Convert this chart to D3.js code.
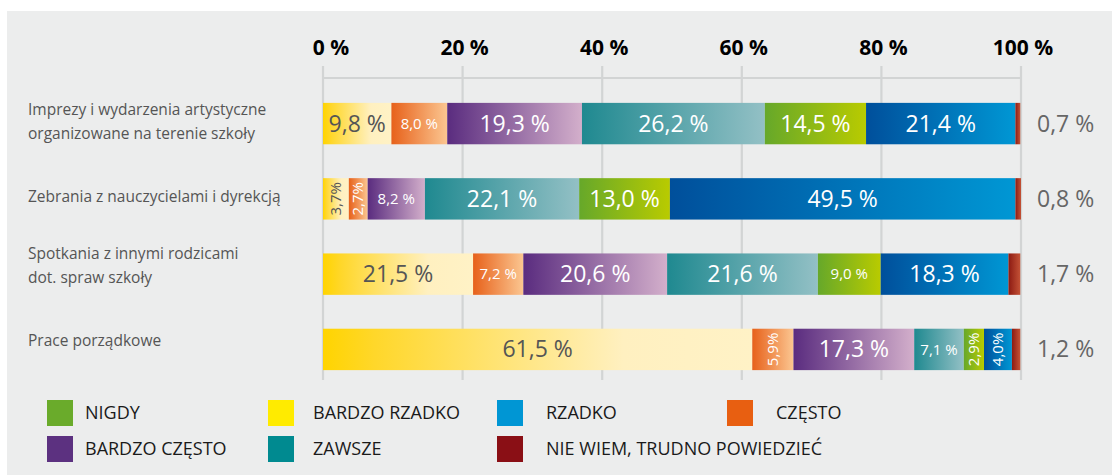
<!DOCTYPE html>
<html>
<head>
<meta charset="utf-8">
<script src="https://cdn.jsdelivr.net/npm/d3@7"></script>
<style>
  html, body { margin: 0; padding: 0; background: #fff; }
  svg { display: block; }
</style>
</head>
<body>
<svg width="1112" height="475"></svg>
<script>
// categories (rows) and the series, in the order they are stacked
const categories = [
  'Imprezy i wydarzenia artystyczne organizowane na terenie szkoły',
  'Zebrania z nauczycielami i dyrekcją',
  'Spotkania z innymi rodzicami dot. spraw szkoły',
  'Prace porządkowe'
]
const categoryLines = [
  ['Imprezy i wydarzenia artystyczne', 'organizowane na terenie szkoły'],
  ['Zebrania z nauczycielami i dyrekcją'],
  ['Spotkania z innymi rodzicami', 'dot. spraw szkoły'],
  ['Prace porządkowe']
]
const seriesNames = ['BARDZO RZADKO', 'CZĘSTO', 'BARDZO CZĘSTO', 'ZAWSZE', 'NIGDY', 'RZADKO', 'NIE WIEM, TRUDNO POWIEDZIEĆ']

const bardzoRzadko = [9.8, 3.7, 21.5, 61.5]
const czesto = [8.0, 2.7, 7.2, 5.9]
const bardzoCzesto = [19.3, 8.2, 20.6, 17.3]
const zawsze = [26.2, 22.1, 21.6, 7.1]
const nigdy = [14.5, 13.0, 9.0, 2.9]
const rzadko = [21.4, 49.5, 18.3, 4.0]
const nieWiem = [0.7, 0.8, 1.7, 1.2]

const xTicks = [0, 20, 40, 60, 80, 100]
const legendOrder = ['NIGDY', 'BARDZO RZADKO', 'RZADKO', 'CZĘSTO', 'BARDZO CZĘSTO', 'ZAWSZE', 'NIE WIEM, TRUDNO POWIEDZIEĆ']

const seriesValues = [bardzoRzadko, czesto, bardzoCzesto, zawsze, nigdy, rzadko, nieWiem]

// colours: solid (legend) and gradient start / end (bars)
const solid = {
  'BARDZO RZADKO': '#ffeb00', 'CZĘSTO': '#e85f11', 'BARDZO CZĘSTO': '#5c3180',
  'ZAWSZE': '#008a90', 'NIGDY': '#6aab2b', 'RZADKO': '#0096d4',
  'NIE WIEM, TRUDNO POWIEDZIEĆ': '#8a0f15'
}
const grad = {
  'BARDZO RZADKO': [['0', '#ffd400'], ['0.12', '#ffd72a'], ['0.7', '#fff0c0'], ['1', '#fff2c6']],
  'CZĘSTO': [['0', '#e7611a'], ['1', '#fbc691']],
  'BARDZO CZĘSTO': [['0', '#5a2c7f'], ['1', '#d3afcb']],
  'ZAWSZE': [['0', '#1f8990'], ['1', '#93c0c5']],
  'NIGDY': [['0', '#66a82a'], ['1', '#b9cb00']],
  'RZADKO': [['0', '#004f9b'], ['1', '#0097d4']],
  'NIE WIEM, TRUDNO POWIEDZIEĆ': [['0', '#8c1a12'], ['1', '#c45236']]
}

const table = categories.map((c, i) => {
  const row = { category: c }
  seriesNames.forEach((s, j) => { row[s] = seriesValues[j][i] })
  return row
})

const svg = d3.select('svg')
const width = +svg.attr('width')
const height = +svg.attr('height')
const font = '"Open Sans", "DejaVu Sans", sans-serif'

svg.append('rect')
  .attr('x', 7).attr('y', 11)
  .attr('width', width - 7).attr('height', height - 11)
  .attr('fill', '#eceded')

const defs = svg.append('defs')
seriesNames.forEach((s, j) => {
  const lg = defs.append('linearGradient')
    .attr('id', 'g' + j)
    .attr('x1', 0).attr('x2', 1).attr('y1', 0).attr('y2', 0)
  grad[s].forEach(st => lg.append('stop').attr('offset', st[0]).attr('stop-color', st[1]))
})

const xScale = d3.scaleLinear().domain([0, 100]).range([323, 1021])
const yScale = d3.scaleBand()
  .domain(categories)
  .range([69, 404])
  .paddingInner(0.45)
  .paddingOuter(0.45)

// grid
const grid = svg.append('g')
grid.selectAll('line.v')
  .data(xTicks)
  .enter().append('line')
  .attr('x1', d => xScale(d)).attr('x2', d => xScale(d))
  .attr('y1', 66).attr('y2', 380)
  .attr('stroke', '#d2d4d4').attr('stroke-width', 2.2)
grid.append('line')
  .attr('x1', xScale(0)).attr('x2', xScale(100))
  .attr('y1', 78).attr('y2', 78)
  .attr('stroke', '#d2d4d4').attr('stroke-width', 2.2)

svg.append('g').selectAll('text')
  .data(xTicks)
  .enter().append('text')
  .attr('x', d => xScale(d) + (d === 0 ? 8 : 2))
  .attr('y', 55)
  .attr('text-anchor', 'middle')
  .attr('font-family', font)
  .attr('font-weight', 700)
  .attr('font-size', 21)
  .attr('fill', '#000')
  .text(d => d + ' %')

// category labels (the last two sit a little above their bars)
const labelNudge = [-2, -2, -9, -9]
categories.forEach((c, i) => {
  const lines = categoryLines[i]
  const cy = yScale(c) + yScale.bandwidth() / 2 + labelNudge[i]
  const lh = 24
  const t = svg.append('text')
    .attr('font-family', font)
    .attr('font-size', 15.5)
    .attr('fill', '#555')
  lines.forEach((l, k) => {
    t.append('tspan')
      .attr('x', 28)
      .attr('y', cy + (k - (lines.length - 1) / 2) * lh)
      .attr('dy', '0.35em')
      .text(l)
  })
})

// bars
const stacked = d3.stack().keys(seriesNames)(table)
const fmt = v => d3.format('.1f')(v).replace('.', ',')

const layers = svg.append('g').selectAll('g')
  .data(stacked)
  .enter().append('g')
  .attr('fill', (d, j) => `url(#g${j})`)

layers.selectAll('rect')
  .data(d => d)
  .enter().append('rect')
  .attr('x', d => xScale(d[0]))
  .attr('y', d => yScale(d.data.category))
  .attr('width', d => xScale(d[1]) - xScale(d[0]))
  .attr('height', yScale.bandwidth())

// value labels
stacked.forEach((layer, j) => {
  const name = seriesNames[j]
  const isLast = j === seriesNames.length - 1
  const color = name === 'BARDZO RZADKO' ? '#555' : '#fff'
  layer.forEach(d => {
    const val = d.data[name]
    const cy = yScale(d.data.category) + yScale.bandwidth() / 2
    const w = xScale(d[1]) - xScale(d[0])
    if (isLast) {
      svg.append('text')
        .attr('x', 1037).attr('y', cy).attr('dy', '0.35em')
        .attr('font-family', font).attr('font-size', 23)
        .attr('fill', '#666')
        .text(fmt(val) + ' %')
      return
    }
    const cx = (xScale(d[0]) + xScale(d[1])) / 2
    if (w < 45) {
      svg.append('text')
        .attr('transform', `translate(${cx},${cy}) rotate(-90)`)
        .attr('text-anchor', 'middle').attr('dy', '0.35em')
        .attr('font-family', font).attr('font-size', 15)
        .attr('fill', color)
        .text(fmt(val) + '%')
    } else {
      svg.append('text')
        .attr('x', cx).attr('y', cy).attr('dy', '0.35em')
        .attr('text-anchor', 'middle')
        .attr('font-family', font).attr('font-size', w < 65 ? 15 : 23)
        .attr('fill', color)
        .text(fmt(val) + ' %')
    }
  })
})

// legend
const legendCols = [47, 268, 497, 727]
const legendText = [38, 45, 49, 49]
const legendRows = [400, 436]
const legend = svg.append('g').selectAll('g')
  .data(legendOrder)
  .enter().append('g')
  .attr('transform', (d, i) => `translate(${legendCols[i % 4]},${legendRows[Math.floor(i / 4)]})`)
legend.append('rect')
  .attr('width', 26).attr('height', 26)
  .attr('fill', d => solid[d])
legend.append('text')
  .attr('x', (d, i) => legendText[i % 4])
  .attr('y', 13).attr('dy', '0.35em')
  .attr('font-family', font).attr('font-size', 18)
  .attr('fill', '#1a1a1a')
  .text(d => d)
</script>
</body>
</html>
